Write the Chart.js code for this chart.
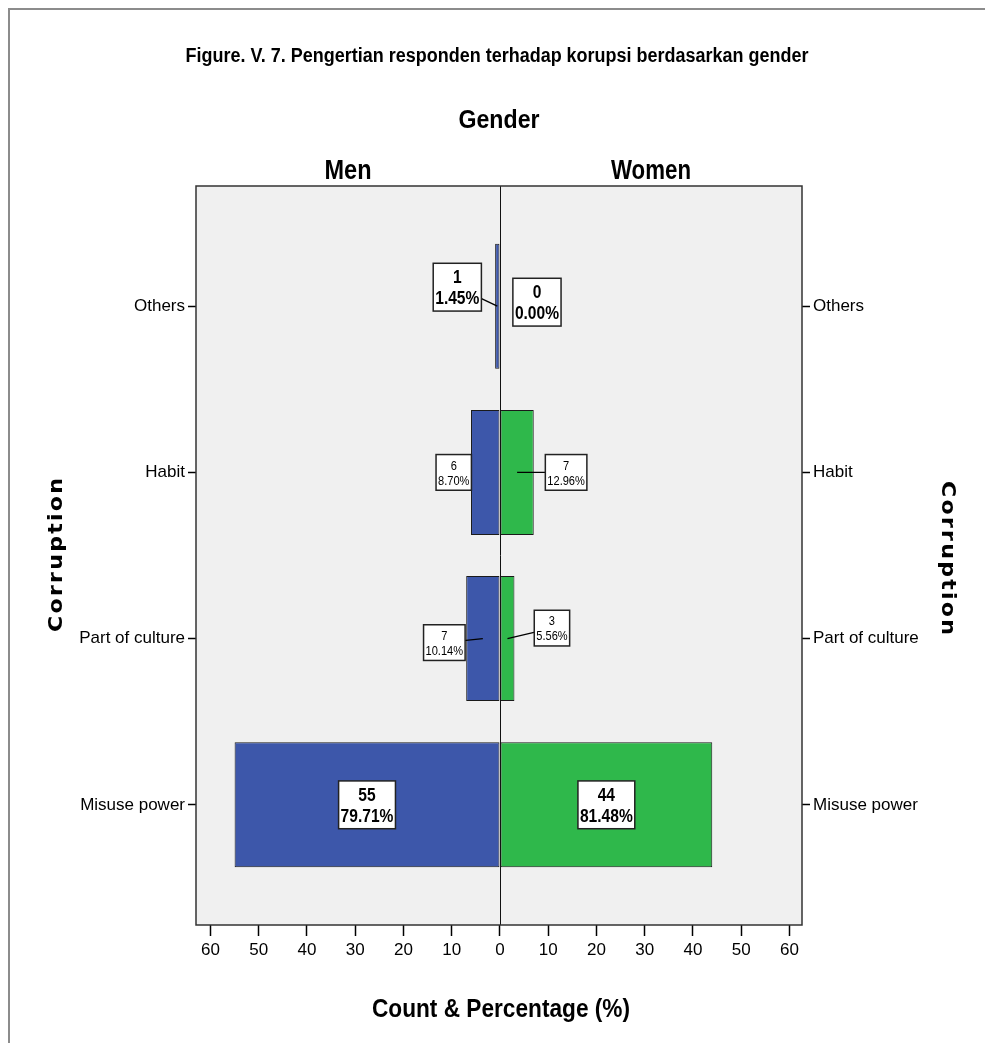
<!DOCTYPE html>
<html><head><meta charset="utf-8">
<script src="https://cdn.jsdelivr.net/npm/chart.js@4.4.1/dist/chart.umd.min.js"></script>
<style>
html,body{margin:0;padding:0;background:#fff;}
#wrap{position:relative;width:985px;height:1043px;}
canvas{display:block;}
</style>
</head><body>
<div id="wrap"><canvas id="c" width="985" height="1043"></canvas></div>
<script>
// ---- data ----
const categories = ["Others", "Habit", "Part of culture", "Misuse power"];
const seriesNames = ["Men", "Women"];
const menCounts = [1, 6, 7, 55];
const womenCounts = [0, 7, 3, 44];
const menPercents = ["1.45%", "8.70%", "10.14%", "79.71%"];
const womenPercents = ["0.00%", "12.96%", "5.56%", "81.48%"];
const xTickValues = [-60, -50, -40, -30, -20, -10, 0, 10, 20, 30, 40, 50, 60];
const xTickLabels = ["60", "50", "40", "30", "20", "10", "0", "10", "20", "30", "40", "50", "60"];
const titleText = "Figure. V. 7. Pengertian responden terhadap korupsi berdasarkan gender";
const panelTitle = "Gender";
const yTitle = "Corruption";
const xTitle = "Count & Percentage (%)";

// ---- style / layout ----
const SANS = "'Liberation Sans',Arial,sans-serif";
const BLUE = "#3D57AA", GREEN = "#2FB84B";
const NARROW_X = 0.82; // horizontal squeeze to mimic a narrow face
// label offsets (px) from bar centre, per category
const menLabelLayout = [
  {dx: -40, dy: -19, leader: true, size: 19, bold: true},
  {dx: -31.5, dy: 0, leader: false, size: 13.5, bold: false},
  {dx: -38.5, dy: 4, leader: true, size: 13.5, bold: false},
  {dx: 0, dy: 0, leader: false, size: 19, bold: true}
];
const womenLabelLayout = [
  {dx: 37, dy: -4, leader: false, size: 19, bold: true},
  {dx: 49, dy: 0, leader: true, size: 13.5, bold: false},
  {dx: 44.5, dy: -10.5, leader: true, size: 13.5, bold: false},
  {dx: 0, dy: 0, leader: false, size: 19, bold: true}
];

function drawFitted(ctx, text, cx, cy, font, targetW, rotation, spacing) {
  ctx.save();
  ctx.font = font;
  if (spacing) ctx.letterSpacing = spacing + "px";
  const w = ctx.measureText(text).width - (spacing || 0);
  ctx.translate(cx, cy);
  if (rotation) ctx.rotate(rotation);
  ctx.scale(targetW / w, 1);
  ctx.textAlign = "center";
  ctx.textBaseline = "middle";
  ctx.fillStyle = "#000";
  ctx.fillText(text, (spacing || 0) / 2, 0);
  ctx.restore();
}

function drawSqueezed(ctx, text, cx, cy, sx) {
  ctx.save();
  ctx.translate(cx, cy);
  ctx.scale(sx, 1);
  ctx.fillText(text, 0, 0);
  ctx.restore();
}

const framePlugin = {
  id: "frame",
  beforeDraw(chart) {
    const {ctx, chartArea: a} = chart;
    ctx.save();
    ctx.fillStyle = "#fff";
    ctx.fillRect(0, 0, chart.width, chart.height);
    ctx.fillStyle = "#8c8c8c";
    ctx.fillRect(8, 8, chart.width - 8, 2);
    ctx.fillRect(8, 8, 2, chart.height - 8);
    ctx.fillStyle = "#F0F0F0";
    ctx.fillRect(a.left, a.top, a.right - a.left, a.bottom - a.top);
    ctx.restore();
  },
  afterDatasetsDraw(chart) {
    const {ctx, chartArea: a} = chart;
    const xs = chart.scales.x;
    const x0 = xs.getPixelForValue(0);
    ctx.save();
    ctx.strokeStyle = "#111";
    ctx.lineWidth = 1;
    ctx.beginPath();
    ctx.moveTo(Math.round(x0) + 0.5, a.top);
    ctx.lineTo(Math.round(x0) + 0.5, a.bottom);
    ctx.stroke();
    ctx.strokeStyle = "#333";
    ctx.lineWidth = 1.5;
    ctx.strokeRect(a.left, a.top, a.right - a.left, a.bottom - a.top);

    const sets = [
      {meta: chart.getDatasetMeta(0), counts: menCounts, pcts: menPercents, lay: menLabelLayout},
      {meta: chart.getDatasetMeta(1), counts: womenCounts, pcts: womenPercents, lay: womenLabelLayout}
    ];
    sets.forEach(s => {
      s.meta.data.forEach((el, i) => {
        const L = s.lay[i];
        const bx = (el.x + el.base) / 2, by = el.y;
        const cx = bx + L.dx, cy = by + L.dy;
        ctx.font = (L.bold ? "bold " : "") + L.size + "px " + SANS;
        const l1 = String(s.counts[i]), l2 = s.pcts[i];
        const tw = Math.max(ctx.measureText(l1).width, ctx.measureText(l2).width) * NARROW_X;
        const lh = L.size * 1.1;
        const bw = tw + 4, bh = lh * 2 + 6;
        if (L.leader) {
          ctx.strokeStyle = "#000";
          ctx.lineWidth = 1.3;
          ctx.beginPath();
          ctx.moveTo(bx, by);
          ctx.lineTo(cx, cy);
          ctx.stroke();
        }
        ctx.fillStyle = "#fff";
        ctx.fillRect(cx - bw / 2, cy - bh / 2, bw, bh);
        ctx.strokeStyle = "#222";
        ctx.lineWidth = 1.5;
        ctx.strokeRect(cx - bw / 2, cy - bh / 2, bw, bh);
        ctx.fillStyle = "#000";
        ctx.textAlign = "center";
        ctx.textBaseline = "middle";
        drawSqueezed(ctx, l1, cx, cy - lh / 2 + 1, NARROW_X);
        drawSqueezed(ctx, l2, cx, cy + lh / 2 + 1, NARROW_X);
      });
    });
    ctx.restore();
  },
  afterDraw(chart) {
    const {ctx, chartArea: a} = chart;
    const x0 = chart.scales.x.getPixelForValue(0);
    drawFitted(ctx, titleText, 497, 57, "bold 19.5px " + SANS, 623);
    drawFitted(ctx, panelTitle, (a.left + a.right) / 2, 121, "bold 26px " + SANS, 81);
    drawFitted(ctx, seriesNames[0], (a.left + x0) / 2, 172, "bold 27px " + SANS, 47);
    drawFitted(ctx, seriesNames[1], (x0 + a.right) / 2, 172, "bold 27px " + SANS, 80);
    drawFitted(ctx, xTitle, 501, 1010, "bold 25px " + SANS, 258);
    drawFitted(ctx, yTitle, 57, 555, "bold 20px 'DejaVu Sans',sans-serif", 154, -Math.PI / 2, 2);
    drawFitted(ctx, yTitle, 947, 558, "bold 20px 'DejaVu Sans',sans-serif", 154, Math.PI / 2, 2);
  }
};

function yAxis(position, width) {
  return {
    type: "linear",
    position: position,
    min: -0.723, max: 3.723,
    reverse: true,
    stacked: true,
    offset: false,
    afterBuildTicks: s => { s.ticks = categories.map((c, i) => ({value: i})); },
    afterFit: s => { s.width = width; },
    ticks: {
      color: "#000",
      padding: 3,
      font: {family: SANS, size: 17},
      callback: v => categories[v]
    },
    grid: {offset: false, drawOnChartArea: false, drawTicks: true, tickLength: 8, tickColor: "#000", tickWidth: 1.5},
    border: {display: false}
  };
}

new Chart(document.getElementById("c"), {
  type: "bar",
  data: {
    labels: categories,
    datasets: [
      {
        label: seriesNames[0],
        data: menCounts.map((v, i) => ({x: -v, y: i})),
        backgroundColor: BLUE, borderColor: "#1a1a1a", borderWidth: 1, borderSkipped: false,
        categoryPercentage: 1, barPercentage: 0.752, yAxisID: "y"
      },
      {
        label: seriesNames[1],
        data: womenCounts.map((v, i) => ({x: v, y: i})),
        backgroundColor: GREEN, borderColor: "#1a1a1a", borderWidth: 1, borderSkipped: false,
        categoryPercentage: 1, barPercentage: 0.752, yAxisID: "y"
      }
    ]
  },
  options: {
    indexAxis: "y",
    responsive: false,
    animation: false,
    devicePixelRatio: 1,
    layout: {padding: {top: 186, left: 0, right: 0, bottom: 0}},
    plugins: {legend: {display: false}, tooltip: {enabled: false}, title: {display: false}},
    scales: {
      x: {
        type: "linear",
        min: -63, max: 62.6,
        stacked: false,
        afterBuildTicks: s => { s.ticks = xTickValues.map(v => ({value: v})); },
        afterFit: s => { s.height = 118; },
        ticks: {
          color: "#000",
          padding: 4,
          font: {family: SANS, size: 17},
          callback: (v, i) => xTickLabels[i]
        },
        grid: {drawOnChartArea: false, drawTicks: true, tickLength: 11, tickColor: "#000", tickWidth: 1.5},
        border: {display: false}
      },
      y: yAxis("left", 196),
      y2: yAxis("right", 183)
    }
  },
  plugins: [framePlugin]
});
</script>
</body></html>
